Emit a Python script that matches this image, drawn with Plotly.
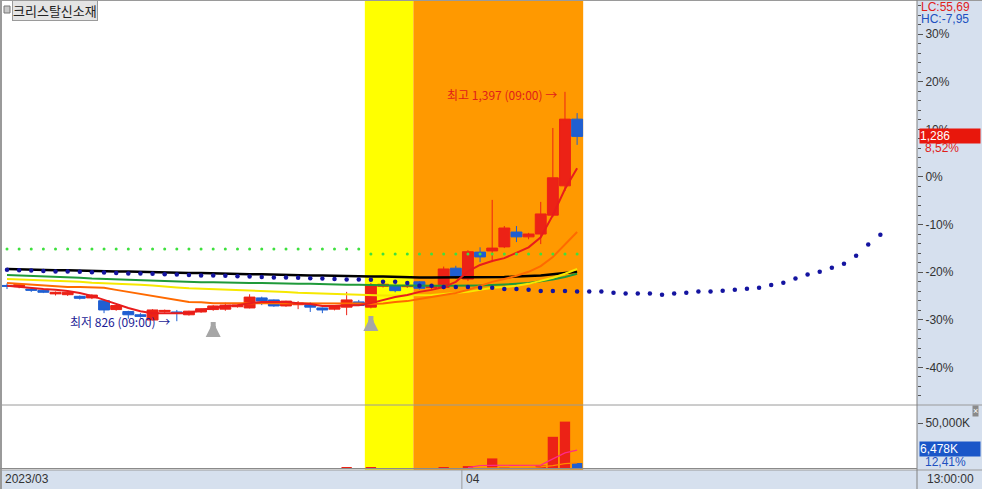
import plotly.graph_objects as go

# ---------------- data ----------------
idx = list(range(48))
opens = [915, 912, 906, 903, 894, 892, 888, 884, 877, 855,
         850, 842, 829, 850, 849, 842, 849, 855, 856, 862,
         859, 884, 879, 864, 867, 869, 859, 856, 861, 874,
         861, 913, 915, 912, 924, 910, 910, 958, 931, 998,
         1001, 1011, 1048, 1036, 1043, 1090, 1163, 1329]
highs = [920, 919, 910, 905, 900, 899, 890, 893, 880, 866,
         852, 846, 856, 855, 854, 852, 858, 866, 872, 867,
         893, 887, 880, 877, 876, 873, 860, 866, 899, 879,
         921, 920, 918, 917, 926, 915, 962, 964, 1003, 1010,
         1128, 1063, 1063, 1046, 1123, 1307, 1397, 1344]
lows = [906, 908, 899, 896, 890, 889, 880, 881, 846, 852,
        832, 835, 828, 847, 826, 840, 847, 852, 852, 860,
        858, 866, 862, 862, 856, 849, 846, 853, 841, 864,
        858, 910, 898, 909, 905, 906, 906, 932, 926, 973,
        973, 1008, 1023, 1030, 1018, 1085, 1150, 1265]
closes = [913, 917, 903, 898, 898, 898, 883, 891, 854, 865,
          842, 838, 854, 853, 847, 851, 857, 864, 866, 866,
          886, 876, 864, 876, 871, 861, 854, 864, 879, 865,
          916, 918, 902, 915, 908, 913, 956, 937, 999, 986,
          1008, 1058, 1036, 1043, 1093, 1183, 1329, 1286]
volumes = [400, 300, 350, 300, 250, 300, 350, 300, 600, 400,
           450, 300, 600, 300, 500, 350, 300, 400, 350, 250,
           700, 300, 350, 300, 250, 350, 300, 300, 1500, 400,
           1200, 900, 800, 900, 700, 500, 2000, 600, 3200, 800,
           11500, 1200, 900, 600, 3800, 35000, 51500, 6478]

ma5 = [914, 911, 909, 906, 904, 901, 896, 889, 879, 869,
       859, 851, 846, 846, 846, 846, 854, 859, 864, 866,
       871, 874, 874, 874, 871, 869, 864, 864, 866, 866,
       871, 879, 886, 891, 899, 904, 911, 924, 950, 966,
       976, 983, 996, 1010, 1035, 1090, 1155, 1207]
ma10 = [921, 919, 916, 914, 912, 911, 911, 910, 909, 904,
        899, 894, 889, 884, 879, 874, 873, 871, 871, 871,
        871, 871, 871, 871, 871, 871, 871, 871, 871, 870,
        869, 870, 874, 876, 881, 886, 891, 896, 904, 914,
        924, 931, 939, 949, 963, 986, 1016, 1048]
ma20 = [931, 930, 929, 927, 926, 925, 924, 922, 921, 920,
        919, 917, 915, 912, 910, 908, 907, 906, 905, 904,
        902, 901, 900, 899, 897, 896, 895, 894, 892, 891,
        891, 890, 890, 890, 890, 891, 894, 896, 899, 904,
        909, 911, 914, 919, 926, 934, 944, 956]
ma60 = [941, 940, 938, 937, 936, 935, 934, 932, 931, 930,
        929, 927, 926, 925, 924, 924, 923, 923, 922, 922,
        921, 921, 920, 920, 919, 919, 918, 918, 917, 917,
        916, 916, 915, 915, 914, 914, 914, 914, 914, 915,
        916, 917, 919, 921, 925, 930, 936, 944]
ma120 = [956, 955, 955, 954, 953, 953, 952, 951, 951, 950,
         950, 949, 948, 948, 947, 946, 946, 945, 945, 944,
         943, 943, 942, 942, 941, 940, 940, 939, 939, 938,
         937, 937, 936, 936, 935, 935, 935, 935, 935, 935,
         935, 936, 937, 938, 940, 943, 946, 949]
green_dots = [1006] * 30 + [993] * 18
blue_dots = [954, 953, 952, 951, 950, 950, 949, 948, 947, 946,
             945, 945, 944, 943, 942, 941, 940, 940, 939, 938,
             937, 936, 935, 935, 934, 933, 932, 931, 930, 930,
             929, 924, 924, 921, 914, 914, 911, 911, 911, 909,
             909, 906, 906, 904, 901, 901, 901, 900,
             900, 900, 897, 895, 895, 895, 892, 895, 897, 900,
             900, 902, 904, 907, 909, 916, 922, 932, 942, 949,
             959, 969, 989, 1017, 1041]
# volume moving averages (only the visible part, from index 38)
vol_ma_idx = list(range(38, 48))
vol_ma5 = [1400, 3800, 3900, 3900, 3900, 3900, 4300, 11000, 17500, 20500]
vol_ma20 = [900, 1000, 1300, 1400, 1420, 1500, 2400, 3600, 5900, 6700]

BASE_PRICE = 1185
pct_major = [30, 20, 10, 0, -10, -20, -30, -40]
pct_minor = [p for p in range(-46, 38, 2) if p % 10 != 0]
vol_ticks = [50000]
vol_tick_text = ["50,000K"]
yellow_span = [29.5, 33.5]
orange_span = [33.5, 47.5]
signal_idx = [17, 30]
signal_price = [824, 839]
date_text = ["2023/03", "04"]
date_pos = [-0.5, 37.5]
high_idx, high_val = 46, 1397
low_idx, low_val = 14, 826

# ---------------- style ----------------
UP = '#ec2216'
DOWN = '#1f5fd2'
PANEL = '#d6e0ee'
PLOT_W, PLOT_H = 917, 470


def pxx(x):
    return x / PLOT_W


def pxy(y):
    return (PLOT_H - y) / PLOT_H


fig = go.Figure()

for vals, color, width in [(ma120, '#000000', 2.5), (ma60, '#1f9a3a', 2),
                           (ma20, '#f6e800', 2), (ma10, '#ff6a00', 2),
                           (ma5, '#e81c1c', 2)]:
    fig.add_trace(go.Scatter(x=idx, y=vals, mode='lines',
                             line=dict(color=color, width=width),
                             hoverinfo='skip'))

fig.add_trace(go.Scatter(x=idx, y=green_dots, mode='markers',
                         marker=dict(color='#3ee03e', size=3), hoverinfo='skip'))

fig.add_trace(go.Candlestick(
    x=idx, open=opens, high=highs, low=lows, close=closes,
    increasing=dict(line=dict(color=UP, width=1), fillcolor=UP),
    decreasing=dict(line=dict(color=DOWN, width=1), fillcolor=DOWN),
    whiskerwidth=0, hoverinfo='skip'))

fig.add_trace(go.Scatter(x=list(range(len(blue_dots))), y=blue_dots, mode='markers',
                         marker=dict(color='#1414a0', size=4.5), hoverinfo='skip'))

vol_colors = [UP if c >= o else DOWN for o, c in zip(opens, closes)]
fig.add_trace(go.Bar(x=idx, y=volumes, yaxis='y2', width=0.85,
                     marker=dict(color=vol_colors, line_width=0), hoverinfo='skip'))
fig.add_trace(go.Scatter(x=vol_ma_idx, y=vol_ma20, yaxis='y2', mode='lines',
                         line=dict(color='#ff8a00', width=1.2), hoverinfo='skip'))
fig.add_trace(go.Scatter(x=vol_ma_idx, y=vol_ma5, yaxis='y2', mode='lines',
                         line=dict(color='#ff2a8a', width=1.2), hoverinfo='skip'))

shapes = []
for span, col in [(yellow_span, '#ffff00'), (orange_span, '#ff9900')]:
    shapes.append(dict(type='rect', xref='x', yref='paper', x0=span[0], x1=span[1],
                       y0=0, y1=1, fillcolor=col, line_width=0, layer='below'))
line_col = '#9a9a9a'
shapes += [
    dict(type='line', xref='paper', yref='paper', x0=0, x1=982 / PLOT_W,
         y0=pxy(405), y1=pxy(405), line=dict(color=line_col, width=1)),
    dict(type='line', xref='paper', yref='paper', x0=0, x1=982 / PLOT_W,
         y0=pxy(470), y1=pxy(470), line=dict(color=line_col, width=1)),
    dict(type='line', xref='paper', yref='paper', x0=0, x1=982 / PLOT_W,
         y0=pxy(0.5), y1=pxy(0.5), line=dict(color=line_col, width=1)),
    dict(type='line', xref='paper', yref='paper', x0=pxx(1), x1=pxx(1),
         y0=pxy(0), y1=pxy(489), line=dict(color=line_col, width=2)),
    dict(type='line', xref='paper', yref='paper', x0=1, x1=1,
         y0=pxy(0), y1=pxy(489), line=dict(color='#808080', width=1)),
    dict(type='line', xref='paper', yref='paper', x0=0, x1=1,
         y0=pxy(468.5), y1=pxy(468.5), line=dict(color='#8a8a8a', width=1)),
    dict(type='rect', xref='paper', yref='paper', x0=pxx(4), x1=pxx(10),
         y0=pxy(13), y1=pxy(6), fillcolor='#c8c8c8', line=dict(color='#777', width=1)),
]
for p in date_pos[1:]:
    shapes.append(dict(type='line', xref='x', yref='paper', x0=p, x1=p,
                       y0=pxy(470), y1=pxy(489), line=dict(color=line_col, width=1)))

TXT = 'Liberation Sans'
KR = 'Noto Sans CJK KR'
ann = []


def add_text(text, x, y, color, size=12, family=TXT, **kw):
    d = dict(text=text, xref='paper', yref='paper', x=pxx(x), y=pxy(y),
             xanchor='left', yanchor='middle', showarrow=False,
             font=dict(family=family, size=size, color=color))
    d.update(kw)
    ann.append(d)


add_text('크리스탈신소재', 12, 10, '#222', size=13, family=KR,
         bgcolor='#e4e4e4', bordercolor='#9a9a9a', borderwidth=1, borderpad=0)
add_text('LC:55,69', 919, 7, '#e0201a')
add_text('HC:-7,95', 919, 19, '#2050c0')
add_text('1,286', 919, 136, '#ffffff', bgcolor='#e8170c', width=60, align='left',
         borderpad=0)
add_text('8,52%', 923, 148, '#e0201a')
add_text('6,478K', 919, 449, '#ffffff', bgcolor='#1a56c8', width=60, align='left',
         borderpad=0)
add_text('12,41%', 923, 462, '#2050c0')
add_text('13:00:00', 925, 479, '#333333')
add_text('×', 972, 411, '#ffffff', size=9, bgcolor='#8a8a8a', borderpad=0)

for t, p in zip(date_text, date_pos):
    ann.append(dict(text=t, xref='x', yref='paper', x=p, y=pxy(479), xanchor='left',
                    yanchor='middle', xshift=2, showarrow=False,
                    font=dict(family=TXT, size=12, color='#333333')))

ann.append(dict(text='최고 1,397 (09:00) →', xref='x', yref='y', x=high_idx, y=high_val,
                xanchor='right', yanchor='middle', xshift=-6, yshift=-3, showarrow=False,
                font=dict(family=KR, size=12, color='#e0201a')))
ann.append(dict(text='최저 826 (09:00) →', xref='x', yref='y', x=low_idx, y=low_val,
                xanchor='right', yanchor='middle', xshift=-5, showarrow=False,
                font=dict(family=KR, size=12, color='#1c1c96')))
for i, p in zip(signal_idx, signal_price):
    # stem
    ann.append(dict(text='', xref='x', yref='y', x=i, y=p, ax=0, ay=12,
                    showarrow=True, arrowhead=0, arrowwidth=5,
                    arrowcolor='#a6a6a6', standoff=0))
    # head
    ann.append(dict(text='', xref='x', yref='y', x=i, y=p, ax=0, ay=12,
                    showarrow=True, arrowhead=2, arrowwidth=5, arrowsize=0.6,
                    arrowcolor='#a6a6a6', standoff=0))

fig.update_layout(
    width=982, height=489,
    margin=dict(l=0, r=65, t=0, b=19),
    paper_bgcolor=PANEL, plot_bgcolor='white',
    showlegend=False, boxgap=0.0, boxgroupgap=0.1,
    shapes=shapes, annotations=ann,
    xaxis=dict(range=[-0.577, 75.02], showgrid=False, zeroline=False,
               showticklabels=False, ticks='', rangeslider=dict(visible=False),
               anchor='y2'),
    yaxis=dict(domain=[pxy(405), 1], range=[617.4, 1625.6], side='right',
               tickmode='array',
               tickvals=[BASE_PRICE * (1 + p / 100) for p in pct_major],
               ticktext=[f'{p}%' for p in pct_major],
               ticks='outside', ticklen=5, tickcolor='#555',
               minor=dict(tickvals=[BASE_PRICE * (1 + p / 100) for p in pct_minor],
                          ticks='outside', ticklen=3, tickcolor='#555'),
               showgrid=False, zeroline=False, showline=False,
               tickfont=dict(family=TXT, size=12, color='#333')),
    yaxis2=dict(domain=[0, pxy(405)], range=[-1087, 69570], side='right',
                tickmode='array', tickvals=vol_ticks, ticktext=vol_tick_text,
                ticks='outside', ticklen=5, tickcolor='#555',
                showgrid=False, zeroline=False, showline=False,
                tickfont=dict(family=TXT, size=12, color='#333')),
)

fig.write_html('out.html', config={'displayModeBar': False},
               post_script="document.body.style.margin='0px';document.body.style.overflow='hidden';")
